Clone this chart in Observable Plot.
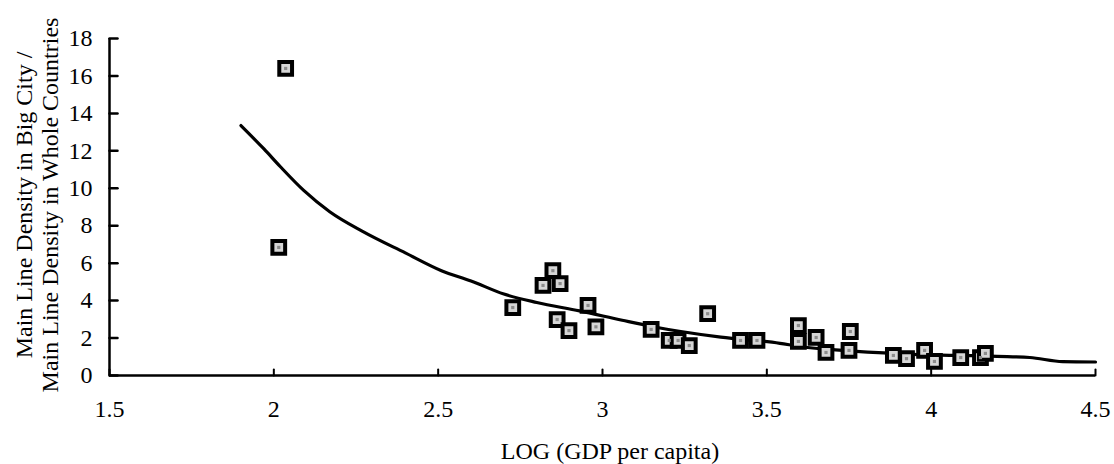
<!DOCTYPE html>
<html>
<head>
<meta charset="utf-8">
<script src="https://cdn.jsdelivr.net/npm/d3@7"></script>
<script src="https://cdn.jsdelivr.net/npm/@observablehq/plot@0.6"></script>
<style>
  html, body { margin: 0; padding: 0; background: #fff; }
</style>
</head>
<body>
<div id="chart"></div>
<script>
// Observed countries: LOG(GDP per capita) vs density ratio
const logGdp = [2.015, 2.036, 2.727, 2.819, 2.849, 2.871, 2.862, 2.898, 2.956, 2.980,
                3.148, 3.203, 3.230, 3.264, 3.320, 3.420, 3.470, 3.596, 3.596, 3.650,
                3.680, 3.754, 3.750, 3.885, 3.925, 3.980, 4.010, 4.090, 4.150, 4.165];
const densityRatio = [6.84, 16.4, 3.63, 4.81, 5.6, 4.91, 2.99, 2.4, 3.74, 2.6,
                      2.46, 1.87, 1.87, 1.6, 3.3, 1.87, 1.87, 2.67, 1.82, 2.03,
                      1.23, 2.35, 1.34, 1.07, 0.9, 1.34, 0.75, 0.96, 0.96, 1.18];

// Fitted curve
const fitX = [1.90, 1.97, 2.02, 2.09, 2.17, 2.27, 2.40, 2.51, 2.60, 2.70, 2.80,
              2.93, 3.06, 3.15, 3.36, 3.54, 3.60, 3.72, 3.91, 4.20, 4.30, 4.40, 4.50];
const fitY = [13.35, 12.1, 11.15, 9.9, 8.75, 7.7, 6.55, 5.6, 5.05, 4.35, 3.9,
              3.45, 2.95, 2.62, 2.05, 1.72, 1.55, 1.36, 1.16, 1.02, 0.96, 0.74, 0.72];

const xTicks = [1.5, 2, 2.5, 3, 3.5, 4, 4.5];
const yTicks = [0, 2, 4, 6, 8, 10, 12, 14, 16, 18];

const xTitle = "LOG (GDP per capita)";
const yTitleLines = ["Main Line Density in Big City /", "Main Line Density in Whole Countries"];

const points = logGdp.map((x, i) => ({x, y: densityRatio[i]}));
const fit = fitX.map((x, i) => ({x, y: fitY[i]}));

const W = 1114, H = 464;
const font = "'Liberation Serif', 'Times New Roman', serif";

// straight tick shape for inward tick marks
const tickShape = {draw(context, l) { context.moveTo(0, 0); context.lineTo(0, -l); }};

const chart = Plot.plot({
  width: W,
  height: H,
  marginLeft: 109,
  marginRight: 19,
  marginTop: 38,
  marginBottom: 89,
  style: {fontFamily: font, fontSize: "24px", background: "#fff", color: "#000"},
  x: {domain: [1.5, 4.5], label: null},
  y: {domain: [0, 18], label: null},
  marks: [
    // tick labels
    Plot.axisX({ticks: xTicks, tickSize: 0, tickPadding: 24, tickFormat: d => String(d), label: null, fontSize: 24, fill: "#000"}),
    Plot.axisY({ticks: yTicks, tickSize: 0, tickPadding: 17, tickFormat: d => String(d), label: null, fontSize: 24, fill: "#000"}),
    // inward tick marks
    Plot.vector(xTicks, {x: d => d, y: () => 0, rotate: 0, length: 6, anchor: "start", shape: tickShape, stroke: "#000", strokeWidth: 2}),
    Plot.vector(yTicks, {x: () => 1.5, y: d => d, rotate: 90, length: 8, anchor: "start", shape: tickShape, stroke: "#000", strokeWidth: 2.5}),
    // axis lines
    Plot.ruleY([0], {stroke: "#000", strokeWidth: 2.5}),
    Plot.ruleX([1.5], {stroke: "#000", strokeWidth: 2.5}),
    // fitted curve
    Plot.line(fit, {x: "x", y: "y", stroke: "#000", strokeWidth: 3.2, curve: "monotone-x"}),
    // markers
    Plot.dot(points, {x: "x", y: "y", symbol: "square", r: 7.2, fill: "#d6d6d6", stroke: "#000", strokeWidth: 4}),
    Plot.dot(points, {x: "x", y: "y", symbol: "square", r: 1.8, fill: "#8c8c8c", stroke: "none"})
  ]
});

const svg = d3.select(chart);
svg.append("text")
  .attr("x", 610).attr("y", 459)
  .attr("text-anchor", "middle")
  .attr("font-family", font).attr("font-size", 24).attr("fill", "#000")
  .text(xTitle);

const baselines = [32, 58];
yTitleLines.forEach((t, i) => {
  svg.append("text")
    .attr("transform", `translate(${baselines[i]},205) rotate(-90)`)
    .attr("text-anchor", "middle")
    .attr("font-family", font).attr("font-size", 24).attr("fill", "#000")
    .text(t);
});

document.getElementById("chart").appendChild(chart);
</script>
</body>
</html>
